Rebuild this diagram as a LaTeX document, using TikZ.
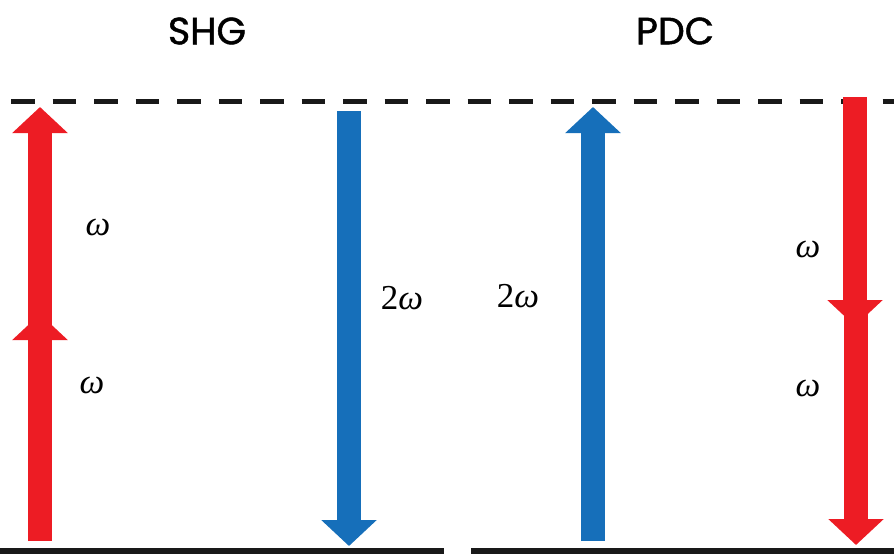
\documentclass[tikz,border=0pt]{standalone}
\usepackage{fontspec}
\newfontfamily\titlefont[FakeBold=1.2]{Poppins}
\newfontfamily\labelfont{Liberation Serif}
\usetikzlibrary{arrows.meta}
\definecolor{photonred}{RGB}{237,28,36}
\definecolor{photonblue}{RGB}{22,111,186}
\newcommand{\om}{\textit{ω}}
\tikzset{
  photon/.style={line width=24pt, -{Triangle[width=54pt,length=26pt]}},
  level/.style={line width=5.5pt, black!90},
  virtual/.style={line width=5pt, black!90, dash pattern=on 23.5pt off 18pt},
  title/.style={font=\titlefont\fontsize{38}{38}\selectfont},
  freq/.style={font=\labelfont\fontsize{35}{35}\selectfont, inner sep=0pt}
}
\begin{document}
\begin{tikzpicture}[x=1pt,y=-1pt]
  \useasboundingbox (0,0) rectangle (894,554);

  % energy levels
  \coordinate (vL) at (11,101);
  \coordinate (vR) at (894,101);
  \coordinate (g1L) at (0,551);
  \coordinate (g1R) at (444,551);
  \coordinate (g2L) at (471,551);
  \coordinate (g2R) at (894,551);
  \draw[virtual] (vL) -- (vR);
  \draw[level] (g1L) -- (g1R);
  \draw[level] (g2L) -- (g2R);

  % titles
  \node[title] (shg) at (207,31) {SHG};
  \node[title] (pdc) at (675,31) {PDC};

  % SHG: two red photons up, one blue photon down
  \coordinate (r1a) at (40,541);
  \coordinate (r1b) at (40,314);
  \coordinate (r2a) at (40,338);
  \coordinate (r2b) at (40,107);
  \draw[photon, photonred] (r1a) -- (r1b);
  \draw[photon, photonred] (r2a) -- (r2b);
  \coordinate (b1a) at (349,111);
  \coordinate (b1b) at (349,546);
  \draw[photon, photonblue] (b1a) -- (b1b);

  % PDC: one blue photon up, two red photons down
  \coordinate (b2a) at (593,541);
  \coordinate (b2b) at (593,107);
  \draw[photon, photonblue] (b2a) -- (b2b);
  \coordinate (r3a) at (855,97);
  \coordinate (r3b) at (855,326);
  \coordinate (r4a) at (856,312);
  \coordinate (r4b) at (856,545);
  \draw[photon, photonred] (r3a) -- (r3b);
  \draw[photon, photonred] (r4a) -- (r4b);

  % frequency labels
  \node[freq] (w1) at (98,227) {\om};
  \node[freq] (w2) at (92,385) {\om};
  \node[freq] (w3) at (402,298) {2\om};
  \node[freq] (w4) at (518,296) {2\om};
  \node[freq] (w5) at (808,249) {\om};
  \node[freq] (w6) at (808,388) {\om};
\end{tikzpicture}
\end{document}
